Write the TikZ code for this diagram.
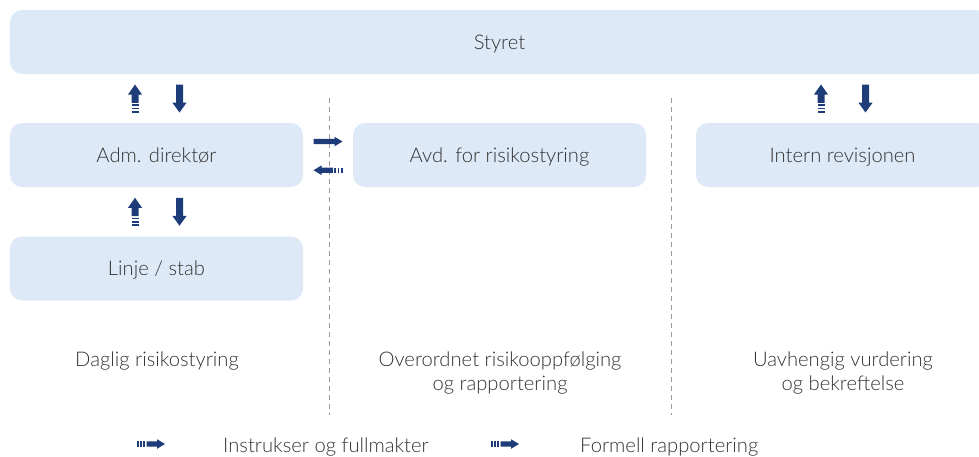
\documentclass[tikz,border=0pt]{standalone}
\usepackage{fontspec}
\setmainfont{Lato}[UprightFont=* Light]
\usetikzlibrary{calc}
\definecolor{boxblue}{HTML}{DDE9F6}
\definecolor{navy}{HTML}{1F3C7A}
\definecolor{txtgrey}{HTML}{333333}
\definecolor{sepgrey}{HTML}{9A9A9A}
\tikzset{
 pics/solidarr/.style n args={4}{code={
   \fill[navy] (0,-#2) -- ({#1-#4},-#2) -- ({#1-#4},-#3) -- (#1,0) -- ({#1-#4},#3) -- ({#1-#4},#2) -- (0,#2) -- cycle;}},
 pics/stripearr/.style n args={4}{code={
   \fill[navy] (0,-#2) rectangle (1.8,#2);
   \fill[navy] (3.2,-#2) rectangle (5,#2);
   \fill[navy] (6.4,-#2) rectangle (8.2,#2);
   \fill[navy] (9.6,-#2) -- ({#1-#4},-#2) -- ({#1-#4},-#3) -- (#1,0) -- ({#1-#4},#3) -- ({#1-#4},#2) -- (9.6,#2) -- cycle;}},
}
\begin{document}
\begin{tikzpicture}[x=1pt,y=-1pt,
  box/.style={fill=boxblue, rounded corners=12pt, minimum height=64pt, inner sep=0pt,
    text height=14.4pt, text depth=0pt, font=\fontsize{20.2}{24}\selectfont, text=txtgrey},
  lbl/.style={font=\fontsize{20.2}{24}\selectfont, text=txtgrey, align=center, inner sep=0pt},
  sepline/.style={draw=sepgrey, line width=0.9pt, dash pattern=on 5pt off 4pt}]
\useasboundingbox (0,0) rectangle (979,456);

% boxes
\node[box, minimum width=979pt] (styret) at (499.5,42) {Styret};
\node[box, minimum width=293pt] (adm) at (156.5,155) {Adm. direktør};
\node[box, minimum width=293pt] (avd) at (499.5,155) {Avd. for risikostyring};
\node[box, minimum width=293pt] (intern) at (842.5,155) {Intern revisjonen};
\node[box, minimum width=293pt] (linje) at (156.5,268.5) {Linje / stab};

% separators
\coordinate (s1t) at (329,98);  \coordinate (s1b) at (329,415);
\coordinate (s2t) at (671,98);  \coordinate (s2b) at (671,415);
\draw[sepline] (s1t) -- (s1b);
\draw[sepline] (s2t) -- (s2b);

% vertical arrow pairs
\coordinate (m1) at ($(adm.north)!0.5!(adm.north|-styret.south)$);
\coordinate (m2) at ($(adm.south)!0.5!(linje.north)$);
\coordinate (m3) at ($(intern.north)!0.5!(intern.north|-styret.south)$);
\foreach \m in {m1,m2,m3}{
  \pic[rotate=90] at ($(\m)+(-21.5,14)$) {stripearr={28}{3.5}{7}{10}};
  \pic[rotate=-90] at ($(\m)+(23,-14)$) {solidarr={28}{3.5}{7.2}{10}};
}

% horizontal arrows between Adm. direktør and Avd. for risikostyring
\coordinate (h) at ($(adm.east)!0.5!(avd.west)$);
\pic at ($(h)+(-14.5,-13.5)$) {solidarr={29}{2.6}{4.8}{8}};
\pic[rotate=180] at ($(h)+(14.5,15.2)$) {stripearr={29}{2.6}{4.8}{8}};

% column labels
\node[lbl, anchor=base] (l1) at (157,366) {Daglig risikostyring};
\node[lbl, anchor=base] (l2) at (500,390) {Overordnet risikooppfølging\\og rapportering};
\node[lbl, anchor=base] (l3) at (843,390) {Uavhengig vurdering\\og bekreftelse};

% legend
\pic at (137,444) {stripearr={28}{2.6}{4.8}{8}};
\node[lbl, anchor=base west] (leg1) at (223,452) {Instrukser og fullmakter};
\pic at (491,444) {stripearr={28}{2.6}{4.8}{8}};
\node[lbl, anchor=base west] (leg2) at (580,452) {Formell rapportering};
\end{tikzpicture}
\end{document}
